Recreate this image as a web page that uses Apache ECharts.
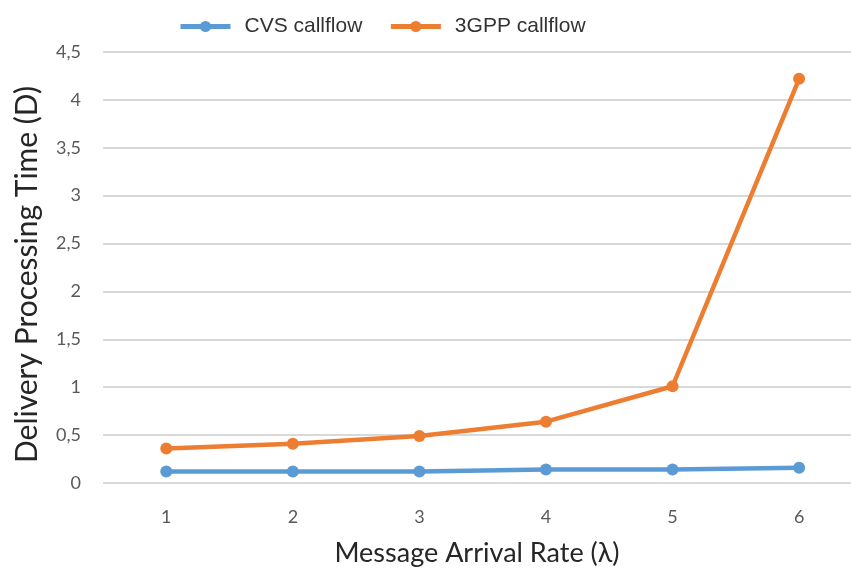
<!DOCTYPE html>
<html>
<head>
<meta charset="utf-8">
<script src="https://cdn.jsdelivr.net/npm/echarts@6/dist/echarts.min.js"></script>
<style>
  html, body { margin: 0; padding: 0; background: #fff; }
  #chart { width: 851px; height: 568px; }
</style>
</head>
<body>
<div id="chart"></div>
<script>
var rates = [1, 2, 3, 4, 5, 6];
var cvsCallflow = [0.12, 0.12, 0.12, 0.14, 0.14, 0.16];
var gppCallflow = [0.36, 0.41, 0.49, 0.64, 1.01, 4.22];

function pairs(vals) {
    return vals.map(function (v, i) { return [rates[i], v]; });
}

var chart = echarts.init(document.getElementById('chart'));

var option = {
    animation: false,
    backgroundColor: '#ffffff',
    legend: {
        top: 11,
        left: 173,
        itemWidth: 50,
        itemHeight: 14,
        itemGap: 26,
        lineStyle: { width: 5 },
        textStyle: {
            fontFamily: 'Liberation Sans',
            fontSize: 21,
            color: '#333333',
            padding: [0, 0, 0, 9]
        },
        data: ['CVS callflow', '3GPP callflow']
    },
    grid: {
        left: 103,
        top: 52,
        right: 0,
        bottom: 85,
        outerBoundsMode: 'none'
    },
    xAxis: {
        type: 'value',
        // half a category of padding on the left, the right edge is cut off
        min: 0.5,
        max: 6.41,
        name: 'Message Arrival Rate (λ)',
        nameLocation: 'middle',
        nameGap: 57,
        nameTextStyle: { fontFamily: 'Lato', fontSize: 27, color: '#262626' },
        axisLine: { show: false },
        axisTick: { show: false },
        splitLine: { show: false },
        axisLabel: {
            customValues: rates,
            margin: 25,
            fontFamily: 'Lato',
            fontSize: 18,
            color: '#595959'
        }
    },
    yAxis: {
        type: 'value',
        min: 0,
        max: 4.5,
        interval: 0.5,
        name: 'Delivery Processing Time (D)',
        nameLocation: 'middle',
        nameGap: 61,
        nameTextStyle: {
            fontFamily: 'Lato',
            fontSize: 30,
            color: '#262626',
            padding: [0, 14, 0, 0]
        },
        axisLine: { show: false },
        axisTick: { show: false },
        splitLine: { lineStyle: { color: '#d9d9d9', width: 2 } },
        axisLabel: {
            margin: 22,
            fontFamily: 'Lato',
            fontSize: 18,
            color: '#595959',
            formatter: function (v) { return String(v).replace('.', ','); }
        }
    },
    series: [
        {
            name: 'CVS callflow',
            type: 'line',
            data: pairs(cvsCallflow),
            symbol: 'circle',
            symbolSize: 12,
            color: '#5B9BD5',
            lineStyle: { width: 4.5 }
        },
        {
            name: '3GPP callflow',
            type: 'line',
            data: pairs(gppCallflow),
            symbol: 'circle',
            symbolSize: 12,
            color: '#ED7D31',
            lineStyle: { width: 4.5 }
        }
    ]
};

chart.setOption(option);
</script>
</body>
</html>
